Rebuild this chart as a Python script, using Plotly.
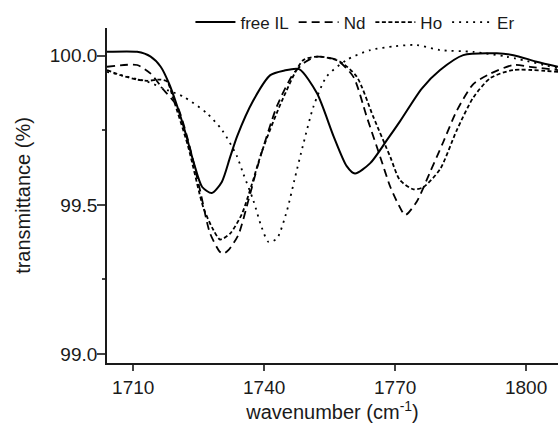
import plotly.graph_objects as go

# wavenumber (cm^-1) / transmittance (%)
free_x = [1704.0, 1710.9, 1714.0, 1716.3, 1718.2, 1720.1, 1722.0, 1723.9, 1725.8, 1728.0, 1730.3, 1732.2, 1733.8,
          1737.5, 1741.4, 1744.5, 1748.0, 1752.1, 1755.9, 1758.9, 1760.8, 1764.3, 1768.1, 1771.1, 1776.1, 1780.3,
          1785.6, 1793.3, 1797.1, 1802.4, 1807.3]
free_y = [100.013, 100.013, 99.997, 99.963, 99.907, 99.83, 99.74, 99.64, 99.56, 99.54, 99.577, 99.66, 99.73,
          99.85, 99.935, 99.95, 99.955, 99.874, 99.73, 99.63, 99.605, 99.64, 99.717, 99.78, 99.89, 99.952,
          100.002, 100.008, 100.002, 99.98, 99.963]

nd_x = [1704.0, 1707.9, 1710.9, 1714.0, 1717.0, 1720.1, 1722.5, 1725.3, 1727.6, 1729.9, 1730.7, 1731.8, 1734.1,
        1736.4, 1738.7, 1742.9, 1746.7, 1749.5, 1752.1, 1756.6, 1760.4, 1763.5, 1766.6, 1768.9, 1770.8, 1772.3,
        1774.9, 1778.0, 1781.0, 1784.1, 1787.9, 1791.8, 1797.1, 1800.9, 1807.3]
nd_y = [99.963, 99.969, 99.969, 99.94, 99.885, 99.83, 99.72, 99.55, 99.405, 99.342, 99.337, 99.348, 99.40,
        99.516, 99.64, 99.83, 99.94, 99.98, 99.997, 99.986, 99.93, 99.795, 99.66, 99.56, 99.5, 99.466,
        99.51, 99.61, 99.71, 99.815, 99.905, 99.94, 99.969, 99.963, 99.952]

ho_x = [1704.0, 1707.1, 1710.9, 1713.2, 1716.3, 1717.8, 1719.3, 1722.5, 1726.1, 1728.4, 1729.9, 1732.2, 1734.9,
        1737.2, 1739.5, 1744.4, 1749.0, 1752.8, 1757.4, 1761.2, 1765.0, 1768.9, 1771.1, 1774.2, 1776.5, 1780.3,
        1784.1, 1787.9, 1791.8, 1797.0, 1807.3]
ho_y = [99.952, 99.935, 99.92, 99.916, 99.92, 99.913, 99.85, 99.70, 99.49, 99.415, 99.384, 99.404, 99.47,
        99.57, 99.68, 99.86, 99.986, 99.997, 99.98, 99.93, 99.795, 99.66, 99.583, 99.552, 99.56, 99.62,
        99.75, 99.86, 99.925, 99.952, 99.946]

er_x = [1704.0, 1708.6, 1713.2, 1717.8, 1721.6, 1726.9, 1730.4, 1733.7, 1735.2, 1737.5, 1739.4, 1741.0, 1742.9,
        1745.2, 1747.1, 1749.0, 1751.3, 1754.3, 1758.9, 1764.3, 1770.0, 1774.9, 1780.3, 1787.9, 1795.5, 1807.3]
er_y = [99.946, 99.93, 99.913, 99.885, 99.862, 99.807, 99.75, 99.665, 99.605, 99.516, 99.426, 99.376, 99.387,
        99.48, 99.594, 99.706, 99.83, 99.93, 99.986, 100.019, 100.032, 100.036, 100.019, 100.013, 99.997, 99.958]

names = ["free IL", "Nd", "Ho", "Er"]
dashes = ["solid", "8px,5px", "4px,2.5px", "2px,5px"]

fig = go.Figure()
for name, xs, ys, dash in zip(names, [free_x, nd_x, ho_x, er_x], [free_y, nd_y, ho_y, er_y], dashes):
    fig.add_trace(go.Scatter(x=xs, y=ys, mode="lines", name=name,
                             line=dict(color="black", width=2 if dash == "solid" else 1.8, dash=dash,
                                       shape="spline", smoothing=0.7)))

font = "Liberation Sans, Arial, sans-serif"
fig.update_layout(
    width=558, height=426,
    margin=dict(l=107, r=0, t=28, b=63),
    plot_bgcolor="white", paper_bgcolor="white",
    font=dict(family=font, size=18, color="#1a1a1a"),
    showlegend=True,
    legend=dict(orientation="h", x=0.185, y=1.07, xanchor="left", yanchor="top",
                bgcolor="rgba(0,0,0,0)", font=dict(size=17), itemwidth=40,
                tracegroupgap=0),
    xaxis=dict(range=[1704.0, 1807.3], tickvals=[1710, 1740, 1770, 1800], ticks="outside", ticklen=6,
               tickwidth=1.5, showline=True, linecolor="#1a1a1a", linewidth=1.8, showgrid=False, zeroline=False,
               tickfont=dict(size=19),
               title=dict(text="wavenumber (cm<sup>-1</sup>)", font=dict(size=20), standoff=8)),
    yaxis=dict(range=[98.97, 100.093], tickvals=[99.0, 99.5, 100.0], tickformat=".1f", ticks="outside",
               ticklen=8, tickwidth=1.5, showline=True, linecolor="#1a1a1a", linewidth=1.8, showgrid=False,
               zeroline=False, tickfont=dict(size=19),
               minor=dict(tickvals=[99.25, 99.75], ticks="outside", ticklen=3, tickwidth=1.5),
               title=dict(text="transmittance (%)", font=dict(size=20), standoff=14)),
)
try:
    fig.update_yaxes(ticklabelstandoff=-4)
except Exception:
    pass
fig.write_html("out.html")
